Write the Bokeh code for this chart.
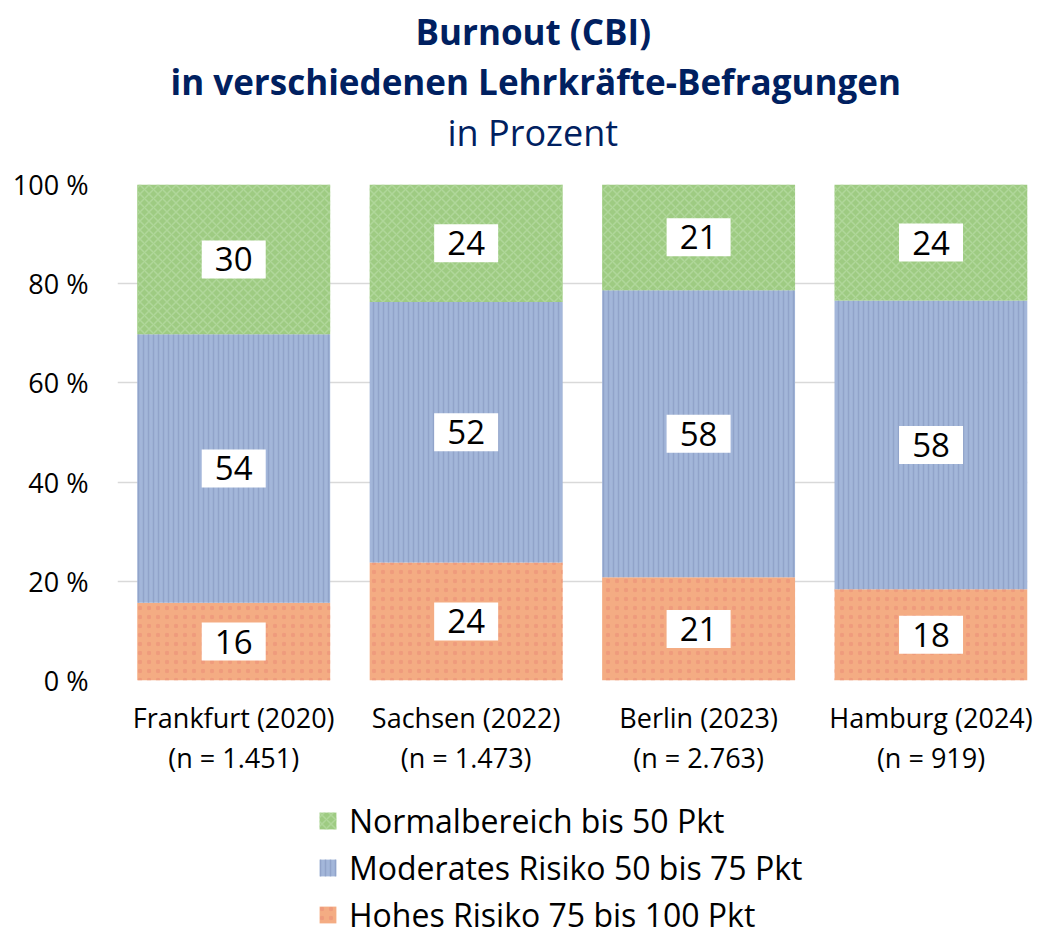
from bokeh.plotting import figure
from bokeh.models import ColumnDataSource, Title, Legend, LegendItem, FixedTicker
from bokeh.layouts import column
from bokeh.core.properties import value
from bokeh.embed import file_html
from bokeh.resources import INLINE

# ---- data ----
categories = ["Frankfurt (2020)", "Sachsen (2022)", "Berlin (2023)", "Hamburg (2024)"]
sample_sizes = ["(n = 1.451)", "(n = 1.473)", "(n = 2.763)", "(n = 919)"]
hohes_risiko = [15.7, 23.8, 20.8, 18.4]
moderates_risiko = [54.1, 52.5, 57.9, 58.2]
normalbereich = [30.2, 23.7, 21.3, 23.4]
labels_hohes = ["16", "24", "21", "18"]
labels_moderat = ["54", "52", "58", "58"]
labels_normal = ["30", "24", "21", "24"]
series_names = ["Normalbereich bis 50 Pkt", "Moderates Risiko 50 bis 75 Pkt", "Hohes Risiko 75 bis 100 Pkt"]
y_ticks = [0, 20, 40, 60, 80, 100]

FONT = "Open Sans"
NAVY = "#002060"

STYLE_H = dict(fill_color="#F4AC83", line_color=None, hatch_pattern="dot", hatch_color="#EC9479",
               hatch_scale=9, hatch_weight=3, hatch_alpha=0.7)
STYLE_M = dict(fill_color="#A3B6DA", line_color=None, hatch_pattern="vertical_line", hatch_color="#8C9FC6",
               hatch_scale=5, hatch_weight=1.5, hatch_alpha=0.8)
STYLE_N = dict(fill_color="#9ECB82", line_color=None, hatch_pattern="diagonal_cross", hatch_color="#B4D9A0",
               hatch_scale=9, hatch_weight=1.5, hatch_alpha=0.8)

xs = list(range(len(categories)))
h_top = hohes_risiko
m_top = [a + b for a, b in zip(hohes_risiko, moderates_risiko)]
n_top = [a + b for a, b in zip(m_top, normalbereich)]

src = ColumnDataSource(dict(
    x=xs,
    zero=[0] * len(xs),
    h_top=h_top, m_top=m_top, n_top=n_top,
    h_c=[t / 2 for t in h_top],
    m_c=[(a + b) / 2 for a, b in zip(h_top, m_top)],
    n_c=[(a + b) / 2 for a, b in zip(m_top, n_top)],
    lh=labels_hohes, lm=labels_moderat, ln=labels_normal,
))

p = figure(width=1038, height=790, x_range=(-0.5, 3.415), y_range=(0, 100),
           output_backend="svg", toolbar_location=None,
           min_border_left=117, min_border_right=11, min_border_top=184, min_border_bottom=110)
p.outline_line_color = None
p.background_fill_color = "white"

r_h = p.vbar(x="x", width=0.83, bottom="zero", top="h_top", source=src, **STYLE_H)
r_m = p.vbar(x="x", width=0.83, bottom="h_top", top="m_top", source=src, **STYLE_M)
r_n = p.vbar(x="x", width=0.83, bottom="m_top", top="n_top", source=src, **STYLE_N)

for yc, lab in (("h_c", "lh"), ("m_c", "lm"), ("n_c", "ln")):
    p.rect(x="x", y=yc, width=64, height=38, width_units="screen", height_units="screen",
           source=src, fill_color="white", line_color=None)
    p.text(x="x", y=yc, text=lab, source=src, text_align="center", text_baseline="middle",
           text_font=value(FONT), text_font_size="33px", text_color="black")

# axes
p.yaxis.ticker = FixedTicker(ticks=y_ticks)
p.yaxis.major_label_overrides = {t: f"{t} %" for t in y_ticks}
p.yaxis.axis_line_color = None
p.yaxis.major_tick_line_color = None
p.yaxis.minor_tick_line_color = None
p.yaxis.major_label_text_font = FONT
p.yaxis.major_label_text_font_size = "27px"
p.yaxis.major_label_text_color = "black"
p.yaxis.major_label_standoff = 23

p.xaxis.ticker = FixedTicker(ticks=xs)
p.xaxis.major_label_overrides = {i: f"{c}\n{n}" for i, c, n in zip(xs, categories, sample_sizes)}
p.xaxis.axis_line_color = None
p.xaxis.major_tick_line_color = None
p.xaxis.minor_tick_line_color = None
p.xaxis.major_label_text_font = FONT
p.xaxis.major_label_text_font_size = "27px"
p.xaxis.major_label_text_color = "black"
p.xaxis.major_label_text_line_height = 1.1
p.xaxis.major_label_standoff = 12

p.xgrid.grid_line_color = None
p.ygrid.grid_line_color = "#D9D9D9"
p.ygrid.grid_line_width = 1.5

# titles (later added = farther from frame); first one is an empty spacer
p.add_layout(Title(text=" ", text_font_size="1px", standoff=25), "above")
p.add_layout(Title(text="in Prozent", text_font=FONT, text_font_size="36px", text_font_style="normal",
                   text_color=NAVY, align="left", offset=330, standoff=0), "above")
p.add_layout(Title(text="in verschiedenen Lehrkräfte-Befragungen", text_font=FONT, text_font_size="35px",
                   text_font_style="bold", text_color=NAVY, align="left", offset=53, standoff=2), "above")
p.add_layout(Title(text="Burnout (CBI)", text_font=FONT, text_font_size="35px",
                   text_font_style="bold", text_color=NAVY, align="left", offset=298, standoff=0), "above")

# legend in its own strip below the chart
pl = figure(width=1038, height=147, x_range=(10, 11), y_range=(10, 11),
            output_backend="svg", toolbar_location=None,
            x_axis_location=None, y_axis_location=None,
            min_border_left=0, min_border_right=0, min_border_top=0, min_border_bottom=0)
pl.grid.visible = False
pl.outline_line_color = None
lg_n = pl.vbar(x=[0], width=0.5, bottom=[0], top=[1], **STYLE_N)
lg_m = pl.vbar(x=[0], width=0.5, bottom=[0], top=[1], **STYLE_M)
lg_h = pl.vbar(x=[0], width=0.5, bottom=[0], top=[1], **STYLE_H)

legend = Legend(items=[LegendItem(label=series_names[0], renderers=[lg_n]),
                       LegendItem(label=series_names[1], renderers=[lg_m]),
                       LegendItem(label=series_names[2], renderers=[lg_h])],
                location=(200, 1), orientation="vertical")
legend.label_text_font = FONT
legend.label_text_font_size = "32px"
legend.label_text_color = "black"
legend.glyph_width = 21
legend.glyph_height = 21
legend.label_height = 28
legend.spacing = 4
legend.label_standoff = 11
legend.border_line_color = None
legend.background_fill_alpha = 0
legend.padding = 0
legend.margin = 0
pl.add_layout(legend, "center")

layout = column(p, pl, spacing=0)
open("out.html", "w").write(file_html(layout, INLINE))
